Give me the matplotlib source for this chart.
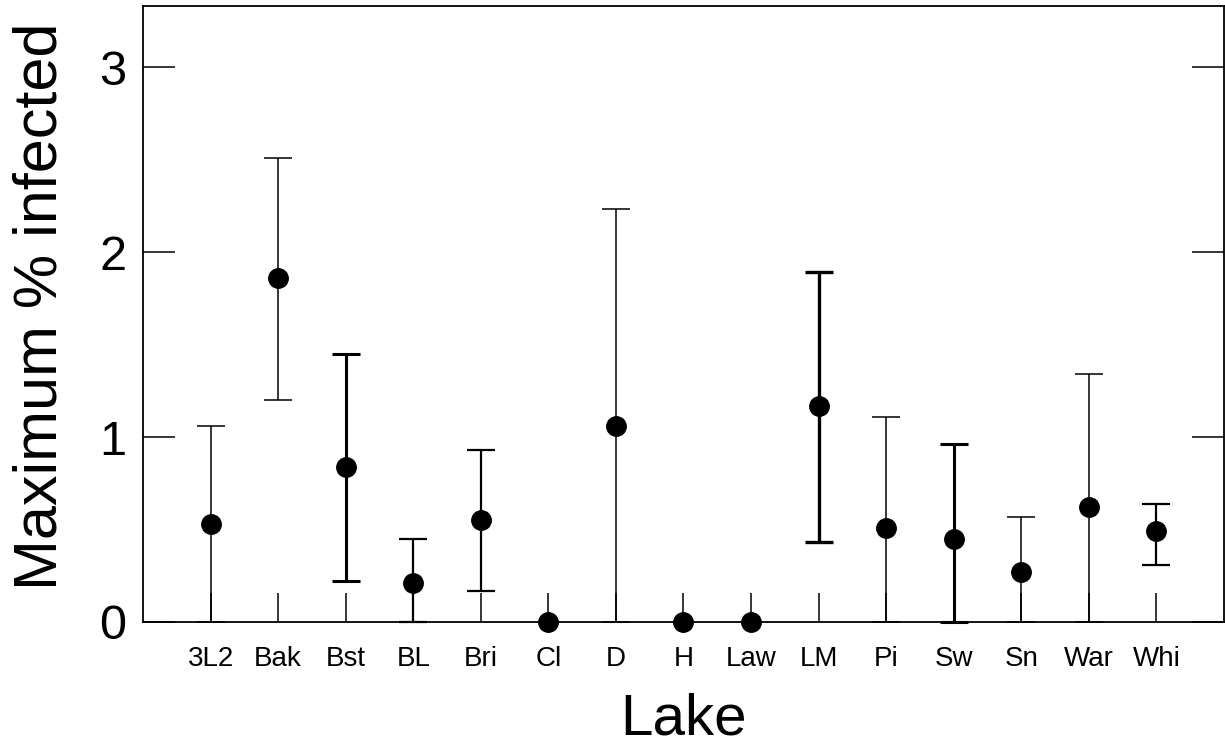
import numpy as np
import matplotlib
matplotlib.use('Agg')
import matplotlib.pyplot as plt

# Valores (media e limites do intervalo)
lagos = ['3L2', 'Bak', 'Bst', 'BL', 'Bri', 'Cl', 'D', 'H', 'Law', 'LM',
         'Pi', 'Sw', 'Sn', 'War', 'Whi']
media = [0.53, 1.86, 0.84, 0.21, 0.55, 0.0, 1.06, 0.0, 0.0, 1.17,
         0.51, 0.45, 0.27, 0.62, 0.49]
limite_sup = [1.06, 2.51, 1.45, 0.45, 0.93, 0.0, 2.23, 0.0, 0.0, 1.89,
              1.11, 0.96, 0.57, 1.34, 0.64]
limite_inf = [0.0, 1.20, 0.22, 0.0, 0.17, 0.0, 0.0, 0.0, 0.0, 0.43,
              0.0, 0.0, 0.0, 0.0, 0.31]

# espessura de cada barra de erro (varia no original)
espessuras = [1.1, 1.1, 2.2, 1.6, 1.6, 1.1, 1.1, 1.1, 1.1, 2.4,
              1.1, 2.2, 1.1, 1.1, 1.6]

plt.rcParams['font.family'] = ['Liberation Sans', 'DejaVu Sans']

fig = plt.figure(figsize=(12.25, 7.51), dpi=100)
ax = fig.add_axes([0.1167, 0.1718, 0.8825, 0.8202])

x = np.arange(1, len(lagos) + 1)
for xi, m, lo, hi, lw in zip(x, media, limite_inf, limite_sup, espessuras):
    if hi > m or lo < m:
        ax.errorbar(xi, m, yerr=[[m - lo], [hi - m]], fmt='none',
                    ecolor='black', elinewidth=lw, capsize=10, capthick=lw,
                    clip_on=False, zorder=2)
    ax.plot(xi, m, 'o', color='black', markersize=14, clip_on=False, zorder=3)

ax.set_xlim(0, 16)
ax.set_ylim(0, 3.33)
ax.set_xticks(x)
ax.set_xticklabels(lagos, fontsize=20)
ax.set_yticks([0, 1, 2, 3])
ax.tick_params(axis='y', direction='in', length=23, width=1.1, labelsize=35,
               pad=12, left=True, right=True)
ax.tick_params(axis='x', direction='in', length=21, width=1.1, pad=17)

for s in ax.spines.values():
    s.set_linewidth(1.3)

ax.set_xlabel('Lake', fontsize=42, labelpad=15)
ax.set_ylabel('Maximum % infected', fontsize=44, labelpad=20)
ax.yaxis.set_label_coords(-0.068, 0.513)

fig.savefig('out.png', dpi=100)
